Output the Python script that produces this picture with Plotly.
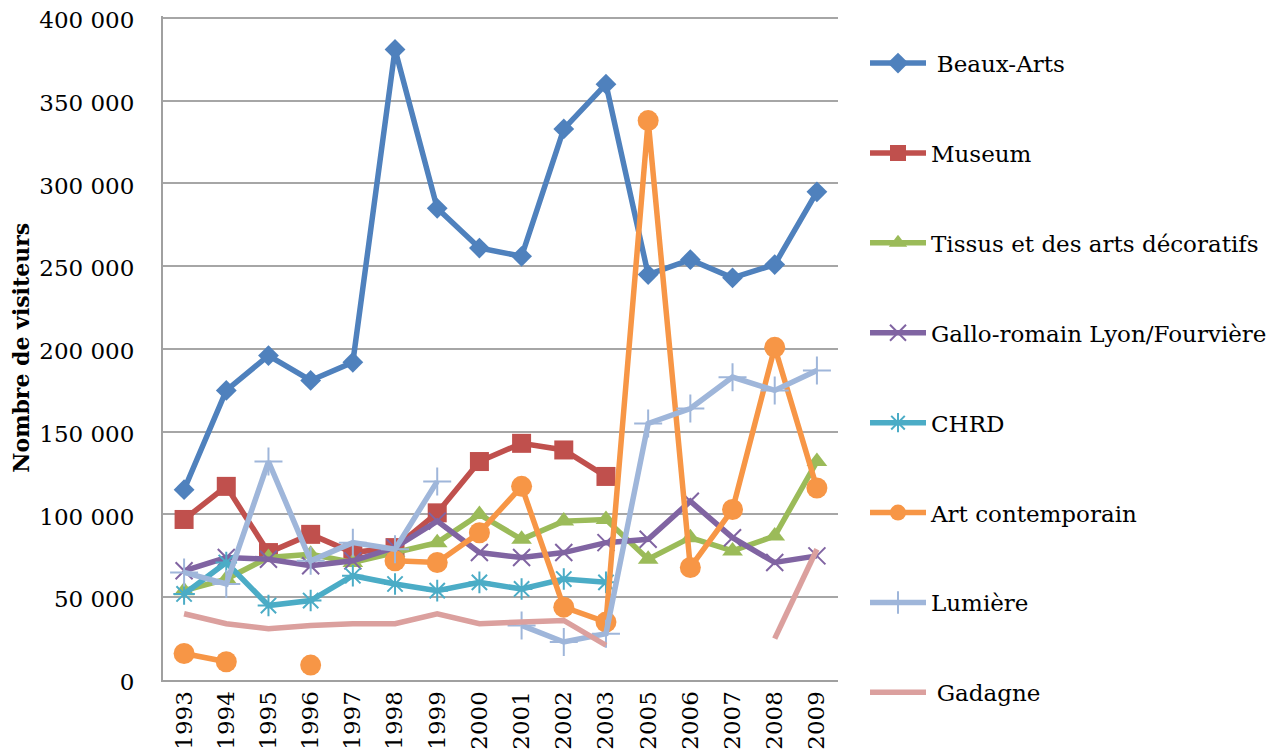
import plotly.graph_objects as go

years = ["1993", "1994", "1995", "1996", "1997", "1998", "1999", "2000",
         "2001", "2002", "2003", "2005", "2006", "2007", "2008", "2009"]

beaux_arts = [115000, 175000, 196000, 181000, 192000, 381000, 285000, 261000,
              256000, 333000, 360000, 245000, 254000, 243000, 251000, 295000]
museum = [97000, 117000, 77000, 88000, 77000, 80000, 101000, 132000,
          143000, 139000, 123000, None, None, None, None, None]
tissus = [54000, 61000, 74000, 76000, 71000, 77000, 83000, 100000,
          85000, 96000, 97000, 73000, 86000, 78000, 87000, 132000]
gallo = [66000, 74000, 73000, 69000, 72000, 80000, 96000, 77000,
         74000, 77000, 83000, 85000, 108000, 86000, 71000, 75000]
chrd = [52000, 71000, 45000, 48000, 63000, 58000, 54000, 59000,
        55000, 61000, 59000, None, None, None, None, None]
art_contemporain = [16000, 11000, None, 9000, None, 72000, 71000, 89000,
                    117000, 44000, 35000, 338000, 68000, 103000, 201000, 116000]
lumiere = [65000, 58000, 132000, 72000, 83000, 79000, 120000, None,
           33000, 23000, 28000, 155000, 164000, 183000, 175000, 187000]
gadagne = [40000, 34000, 31000, 33000, 34000, 34000, 40000, 34000,
           35000, 36000, 21000, None, None, None, 25000, 79000]

y_ticks = [0, 50000, 100000, 150000, 200000, 250000, 300000, 350000, 400000]

series = [
    ("\u2005Beaux-Arts", beaux_arts, "#4F81BD", "diamond", 16, False),
    ("Museum", museum, "#C0504D", "square", 19, False),
    ("Tissus et des arts décoratifs", tissus, "#9BBB59", "triangle-up", 18, False),
    ("Gallo-romain Lyon/Fourvière", gallo, "#8064A2", "x-thin", 17, True),
    ("CHRD", chrd, "#4BACC6", "asterisk", 18, True),
    ("Art contemporain", art_contemporain, "#F79646", "circle", 21, False),
    ("Lumière", lumiere, "#9FB6DA", "cross-thin", 20, True),
    ("\u2005Gadagne", gadagne, "#DBA09E", None, 0, False),
]

FONT = "DejaVu Serif"

fig = go.Figure()
for i, (name, vals, color, symbol, size, thin) in enumerate(series):
    if symbol is None:
        fig.add_trace(go.Scatter(
            x=years, y=vals, name=name, mode="lines",
            line=dict(color=color, width=5.5),
            connectgaps=False, legendgroup=f"g{i}",
        ))
    else:
        if thin:
            marker = dict(symbol=symbol, size=size, color=color,
                          line=dict(color=color, width=2))
        else:
            marker = dict(symbol=symbol, size=size, color=color,
                          line=dict(color=color, width=0))
        fig.add_trace(go.Scatter(
            x=years, y=vals, name=name, mode="lines+markers",
            line=dict(color=color, width=5.5), marker=marker,
            connectgaps=False, legendgroup=f"g{i}",
        ))

fig.update_layout(
    width=1284, height=756,
    margin=dict(l=155, r=454, t=6, b=20, autoexpand=False),
    paper_bgcolor="white", plot_bgcolor="white",
    font=dict(family=FONT, size=23, color="black"),
    separators=". ",
    showlegend=True,
    legend=dict(
        x=1.04, y=0.9622, xanchor="left", yanchor="top",
        tracegroupgap=57, itemwidth=56,
        font=dict(family=FONT, size=23, color="black"),
        bgcolor="rgba(0,0,0,0)", valign="middle",
    ),
    xaxis=dict(
        type="category", categoryorder="array", categoryarray=years,
        range=[-0.5, 15.5], tickangle=-90, automargin=False,
        showline=True, linecolor="#A0A0A0", linewidth=2,
        showgrid=False, ticks="", zeroline=False,
        tickfont=dict(family=FONT, size=23),
    ),
    yaxis=dict(
        domain=[0.08767, 0.99792],
        range=[0, 401500], tickvals=y_ticks, tickformat=",d",
        automargin=False, ticklabeloverflow="allow", ticklabelshift=2,
        showline=True, linecolor="#A0A0A0", linewidth=2,
        showgrid=True, gridcolor="#A6A6A6", gridwidth=1.5,
        zeroline=False, ticks="outside", ticklen=22,
        tickcolor="rgba(0,0,0,0)",
        tickfont=dict(family=FONT, size=23),
        title=dict(text="<b>Nombre de visiteurs</b>",
                   font=dict(family=FONT, size=22), standoff=9),
    ),
)

fig.write_html("out.html")
